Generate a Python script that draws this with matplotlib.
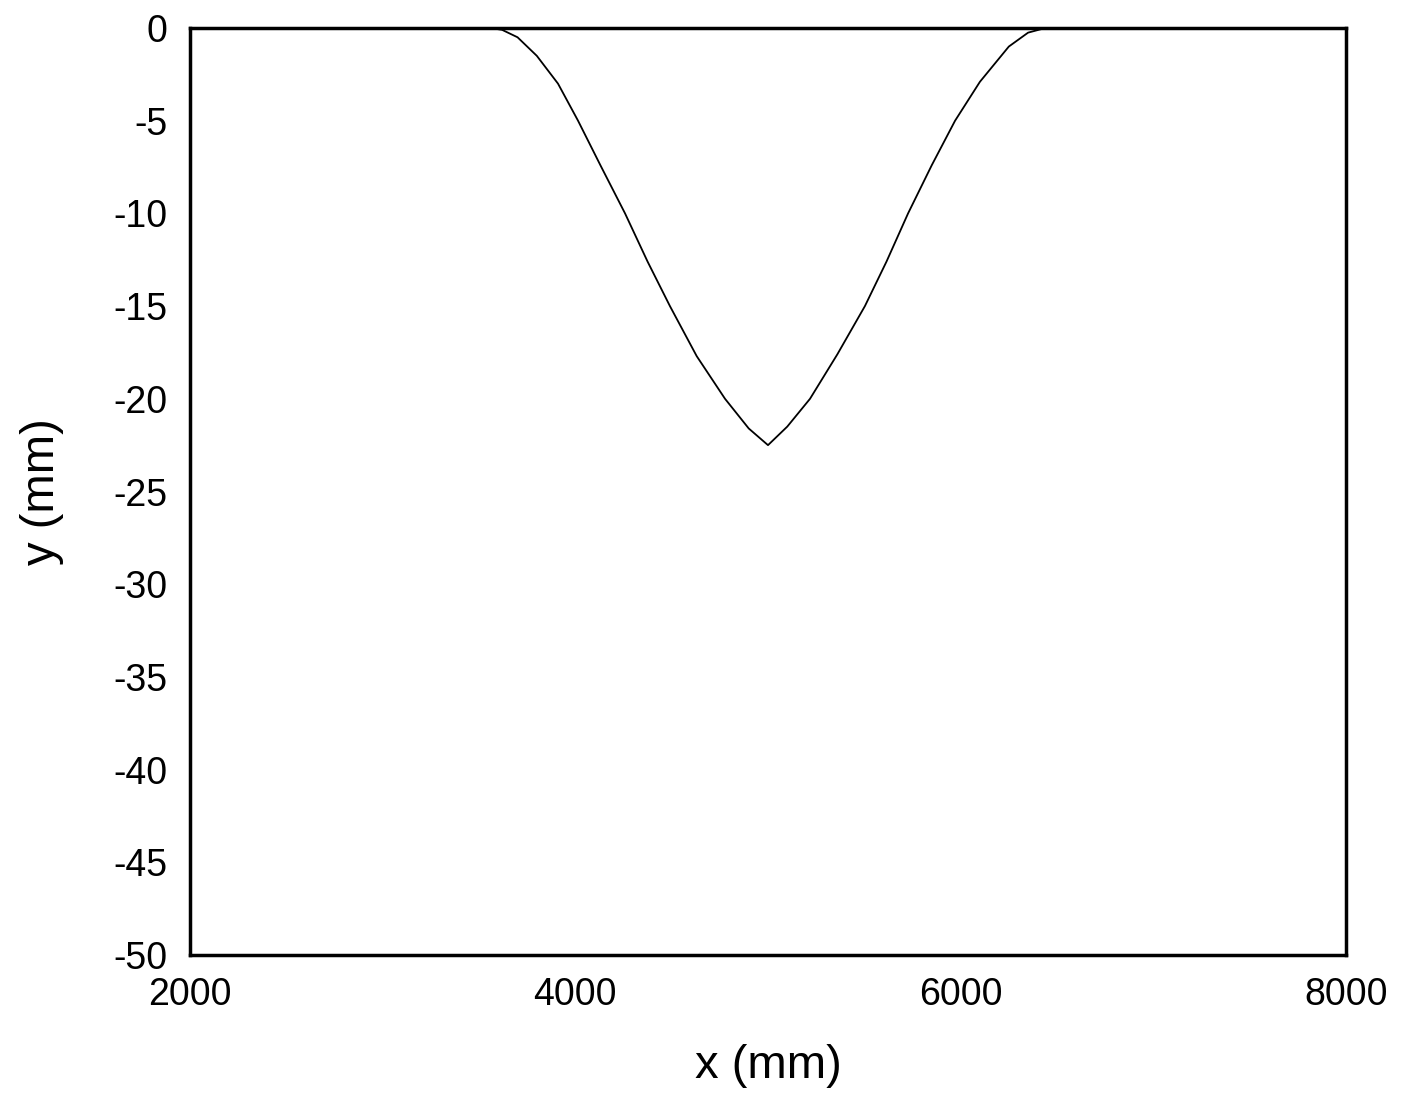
import matplotlib
matplotlib.use('Agg')
import matplotlib.pyplot as plt

# Data
xValues = [2000, 3560, 3620, 3700, 3800, 3910, 4014, 4130, 4258, 4375, 4491, 4630, 4777, 4900, 5000,
           5100, 5218, 5360, 5503, 5615, 5727, 5850, 5971, 6100, 6250, 6350, 6440, 8000]
yValues = [0, 0, -0.1, -0.5, -1.5, -3.0, -5.0, -7.4, -10.0, -12.6, -15.0, -17.7, -20.0, -21.6, -22.5,
           -21.5, -20.0, -17.6, -15.0, -12.6, -10.0, -7.4, -5.0, -2.9, -1.0, -0.25, 0, 0]
xTicks = [2000, 4000, 6000, 8000]
yTicks = [0, -5, -10, -15, -20, -25, -30, -35, -40, -45, -50]

plt.rcParams['font.family'] = ['Liberation Sans', 'DejaVu Sans']
plt.rcParams['axes.unicode_minus'] = False

fig = plt.figure(figsize=(14.02, 11.11), dpi=100)
ax = fig.add_axes([190/1402, 1 - 955/1111, 1156/1402, 927/1111])
ax.plot(xValues, yValues, color='black', linewidth=1.3)

ax.set_xlim(2000, 8000)
ax.set_ylim(-50, 0)
ax.set_xticks(xTicks)
ax.set_yticks(yTicks)
ax.tick_params(length=0, labelsize=27, pad=16)
for s in ax.spines.values():
    s.set_linewidth(2.5)
ax.set_xlabel('x (mm)', fontsize=34, labelpad=22)
ax.set_ylabel('y (mm)', fontsize=34, labelpad=36)

fig.savefig('out.png', dpi=100)
